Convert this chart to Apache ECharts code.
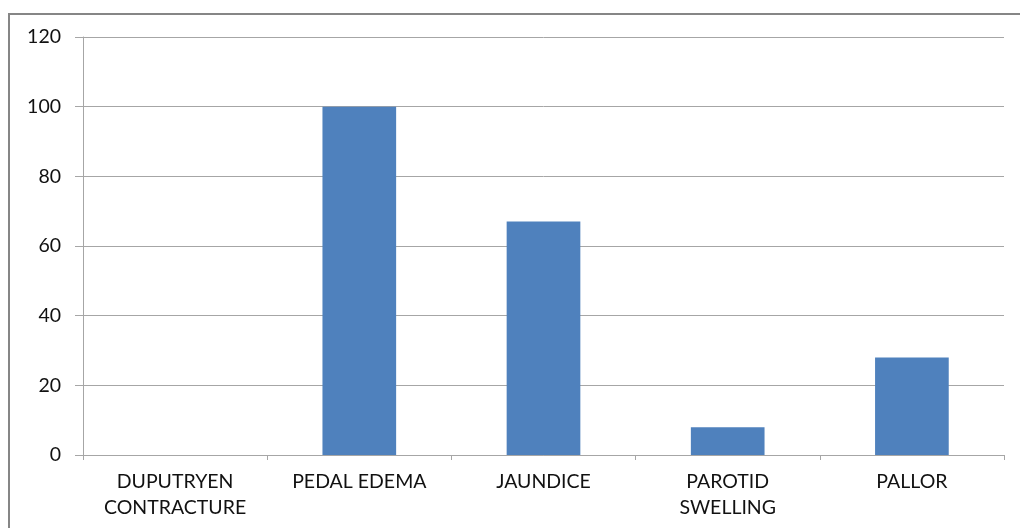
<!DOCTYPE html>
<html>
<head>
<meta charset="utf-8">
<script src="https://cdn.jsdelivr.net/npm/echarts@6/dist/echarts.min.js"></script>
<style>
html,body{margin:0;padding:0;background:#fff;}
#chart{width:1020px;height:528px;}
</style>
</head>
<body>
<div id="chart"></div>
<script>
const categories = ["DUPUTRYEN\nCONTRACTURE", "PEDAL EDEMA", "JAUNDICE", "PAROTID\nSWELLING", "PALLOR"];
const values = [0, 100, 67, 8, 28];

const chart = echarts.init(document.getElementById('chart'));
chart.setOption({
  animation: false,
  backgroundColor: '#ffffff',
  graphic: [{
    type: 'rect',
    shape: { x: 9, y: 14, width: 1100, height: 600 },
    style: { fill: 'none', stroke: '#868686', lineWidth: 2 },
    silent: true
  }],
  grid: { left: 83, right: 16, top: 37, bottom: 73, containLabel: false },
  xAxis: {
    type: 'category',
    data: categories,
    axisLine: { show: true, lineStyle: { color: '#A6A6A6', width: 1 } },
    axisTick: { show: true, alignWithLabel: false, length: 5, lineStyle: { color: '#A6A6A6' } },
    axisLabel: {
      color: '#111111', fontFamily: 'Lato', fontSize: 19.5, margin: 14,
      lineHeight: 26, interval: 0
    },
    splitLine: { show: false }
  },
  yAxis: {
    type: 'value',
    min: 0, max: 120, interval: 20,
    axisLine: { show: true, lineStyle: { color: '#A6A6A6', width: 1 } },
    axisTick: { show: true, length: 8, lineStyle: { color: '#A6A6A6' } },
    axisLabel: { color: '#111111', fontFamily: 'Lato', fontSize: 19.5, margin: 22 },
    splitLine: { show: true, lineStyle: { color: '#A6A6A6', width: 1 } }
  },
  series: [{
    type: 'bar',
    data: values,
    barCategoryGap: '60%',
    itemStyle: { color: '#4F81BD' }
  }]
});
</script>
</body>
</html>
